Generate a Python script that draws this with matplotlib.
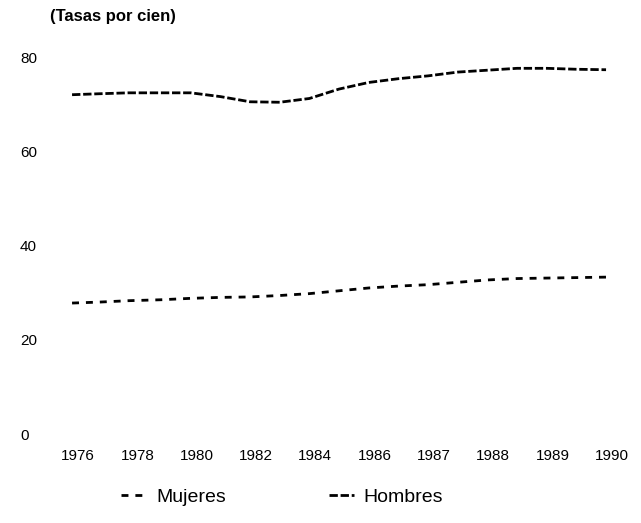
import matplotlib
matplotlib.use("Agg")
from matplotlib import pyplot as plt

plt.rcParams['font.family'] = ['Liberation Sans', 'DejaVu Sans']

# Etiquetas del eje X (posiciones equiespaciadas)
years = ["1976", "1978", "1980", "1982", "1984", "1986", "1987", "1988", "1989", "1990"]

# Posición de cada observación sobre el eje (en unidades de etiqueta)
obs_x = [-0.1, 0.35, 0.85, 1.4, 1.9, 2.4, 2.9, 3.4, 3.9, 4.4,
         4.9, 5.4, 5.9, 6.4, 6.9, 7.4, 7.9, 8.4, 8.9]

# Tasas (por cien)
hombres = [72.0, 72.2, 72.4, 72.4, 72.4, 71.6, 70.5, 70.4, 71.2, 73.2,
           74.6, 75.4, 76.0, 76.8, 77.2, 77.6, 77.6, 77.4, 77.3]
mujeres = [27.8, 28.0, 28.3, 28.5, 28.8, 29.0, 29.1, 29.4, 29.8, 30.4,
           31.0, 31.4, 31.7, 32.2, 32.7, 33.0, 33.1, 33.2, 33.3]

y_ticks = [0, 20, 40, 60, 80]

fig = plt.figure(figsize=(6.41, 5.23), dpi=100)
ax = fig.add_axes([0.0939, 0.170, 0.8886, 0.721])

ax.plot(obs_x, mujeres, color="black", linewidth=2, linestyle=(0, (2.5, 2.5)), label="Mujeres")
ax.plot(obs_x, hombres, color="black", linewidth=2, linestyle=(0, (3, 1)), label="Hombres")

ax.set_xlim(-0.3, 9.3)
ax.set_ylim(0, 80)
ax.set_xticks(range(len(years)))
ax.set_xticklabels(years, fontsize=11)
ax.set_yticks(y_ticks)
ax.set_yticklabels([str(v) for v in y_ticks], fontsize=11)
ax.tick_params(axis="x", length=0, pad=11)
ax.tick_params(axis="y", length=0, pad=29)
for lab in ax.get_yticklabels():
    lab.set_horizontalalignment("left")

for s in ax.spines.values():
    s.set_visible(False)

fig.text(50 / 641, 1 - 17 / 523, "(Tasas por cien)", fontsize=12, fontweight="bold",
         ha="left", va="center")

fig.legend(loc="center", bbox_to_anchor=(0.44, 1 - 497 / 523), ncol=2, frameon=False,
           fontsize=14, handlelength=1.3, columnspacing=5.3, handletextpad=0.5)

fig.savefig("out.png", dpi=100)
